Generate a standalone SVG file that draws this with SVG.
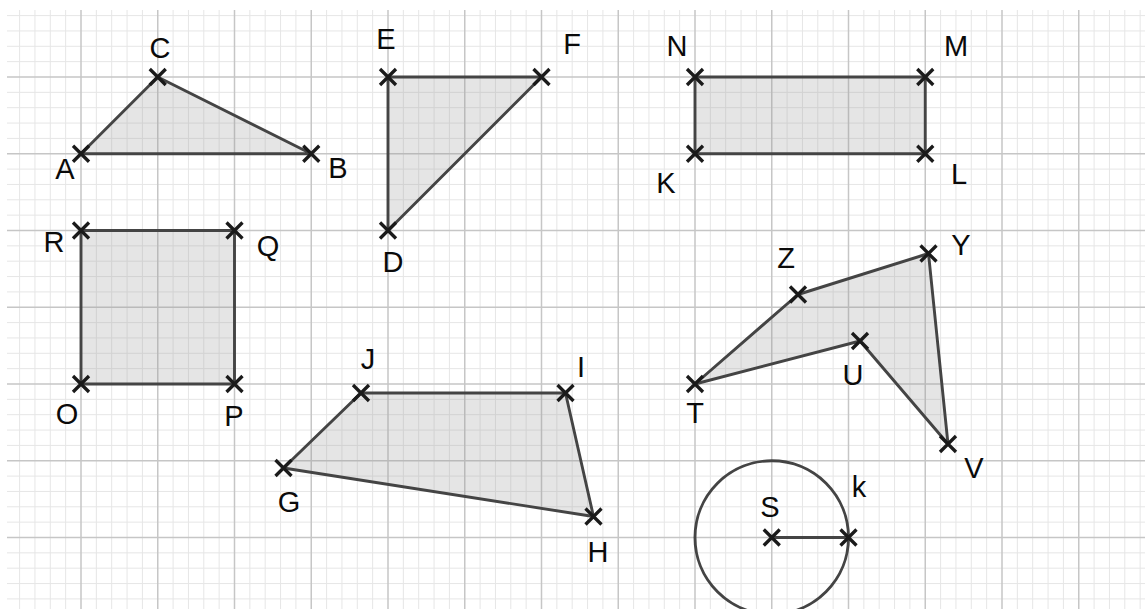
<svg xmlns="http://www.w3.org/2000/svg" width="1145" height="609" viewBox="0 0 1145 609">
<style>
.minor{stroke:#e6e6e6;stroke-width:1;fill:none}
.major{stroke:#c6c6c6;stroke-width:1.5;fill:none}
.shape{fill:#999;fill-opacity:0.25;stroke:none}
.edge{stroke:#444;stroke-width:2.9;fill:none;stroke-linecap:round;stroke-linejoin:round}
.pt{stroke:#1a1a1a;stroke-width:3.3;fill:none}
.lbl{font-family:"Liberation Sans",Arial,sans-serif;font-size:29px;fill:#0a0a0a;text-anchor:middle}
</style>
<defs>
<path id="x" class="pt" d="M-8,-8L8,8M-8,8L8,-8"/>
</defs>
<rect width="1145" height="609" fill="#fff"/>
<g id="grid">
<path class="minor" d="M19.6 10V609M34.95 10V609M50.3 10V609M65.65 10V609M96.35 10V609M111.7 10V609M127.05 10V609M142.4 10V609M173.1 10V609M188.45 10V609M203.8 10V609M219.15 10V609M249.85 10V609M265.2 10V609M280.55 10V609M295.9 10V609M326.6 10V609M341.95 10V609M357.3 10V609M372.65 10V609M403.35 10V609M418.7 10V609M434.05 10V609M449.4 10V609M480.1 10V609M495.45 10V609M510.8 10V609M526.15 10V609M556.85 10V609M572.2 10V609M587.55 10V609M602.9 10V609M633.6 10V609M648.95 10V609M664.3 10V609M679.65 10V609M710.35 10V609M725.7 10V609M741.05 10V609M756.4 10V609M787.1 10V609M802.45 10V609M817.8 10V609M833.15 10V609M863.85 10V609M879.2 10V609M894.55 10V609M909.9 10V609M940.6 10V609M955.95 10V609M971.3 10V609M986.65 10V609M1017.35 10V609M1032.7 10V609M1048.05 10V609M1063.4 10V609M1094.1 10V609M1109.45 10V609M1124.8 10V609M1140.15 10V609
M7 15.6H1145M7 30.95H1145M7 46.3H1145M7 61.65H1145M7 92.35H1145M7 107.7H1145M7 123.05H1145M7 138.4H1145M7 169.1H1145M7 184.45H1145M7 199.8H1145M7 215.15H1145M7 245.85H1145M7 261.2H1145M7 276.55H1145M7 291.9H1145M7 322.6H1145M7 337.95H1145M7 353.3H1145M7 368.65H1145M7 399.35H1145M7 414.7H1145M7 430.05H1145M7 445.4H1145M7 476.1H1145M7 491.45H1145M7 506.8H1145M7 522.15H1145M7 552.85H1145M7 568.2H1145M7 583.55H1145M7 598.9H1145"/>
<path class="major" d="M81 10V609M157.75 10V609M234.5 10V609M311.25 10V609M388 10V609M464.75 10V609M541.5 10V609M618.25 10V609M695 10V609M771.75 10V609M848.5 10V609M925.25 10V609M1002 10V609M1078.75 10V609
M7 77H1145M7 153.75H1145M7 230.5H1145M7 307.25H1145M7 384H1145M7 460.75H1145M7 537.5H1145"/>
</g>
<g id="fills">
<polygon id="triangle-ABC" class="shape" points="81,153.75 157.75,77 311.25,153.75"/>
<polygon id="triangle-DEF" class="shape" points="388,77 541.5,77 388,230.5"/>
<polygon id="rect-KLMN" class="shape" points="695,77 925.25,77 925.25,153.75 695,153.75"/>
<polygon id="square-OPQR" class="shape" points="81,230.5 234.5,230.5 234.5,384 81,384"/>
<polygon id="quad-GHIJ" class="shape" points="361,393 565.5,393 593.5,516.5 283.5,468"/>
<polygon id="poly-TZYVU" class="shape" points="695,384 798,294.5 928.5,253.5 948,444 860,341"/>
</g>
<g id="connectors">
<path class="edge" d="M81,153.75L157.75,77L311.25,153.75Z"/>
<path class="edge" d="M388,77L541.5,77L388,230.5Z"/>
<path class="edge" d="M695,77H925.25V153.75H695Z"/>
<path class="edge" d="M81,230.5H234.5V384H81Z"/>
<path class="edge" d="M361,393L565.5,393L593.5,516.5L283.5,468Z"/>
<path class="edge" d="M695,384L798,294.5L928.5,253.5L948,444L860,341Z"/>
<circle id="circle-k" class="edge" cx="771.75" cy="537.5" r="76.75"/>
<path class="edge" d="M771.75,537.5H848.5"/>
</g>
<g id="points">
<g id="A"><use href="#x" x="81" y="153.75"/><text class="lbl" x="65" y="179">A</text></g>
<g id="B"><use href="#x" x="311.25" y="153.75"/><text class="lbl" x="338" y="178">B</text></g>
<g id="C"><use href="#x" x="157.75" y="77"/><text class="lbl" x="160" y="58">C</text></g>
<g id="D"><use href="#x" x="388" y="230.5"/><text class="lbl" x="393" y="272">D</text></g>
<g id="E"><use href="#x" x="388" y="77"/><text class="lbl" x="386" y="49">E</text></g>
<g id="F"><use href="#x" x="541.5" y="77"/><text class="lbl" x="572" y="54">F</text></g>
<g id="N"><use href="#x" x="695" y="77"/><text class="lbl" x="677" y="56">N</text></g>
<g id="M"><use href="#x" x="925.25" y="77"/><text class="lbl" x="956" y="56">M</text></g>
<g id="L"><use href="#x" x="925.25" y="153.75"/><text class="lbl" x="959" y="184">L</text></g>
<g id="K"><use href="#x" x="695" y="153.75"/><text class="lbl" x="666" y="193">K</text></g>
<g id="R"><use href="#x" x="81" y="230.5"/><text class="lbl" x="54" y="252">R</text></g>
<g id="Q"><use href="#x" x="234.5" y="230.5"/><text class="lbl" x="268" y="256">Q</text></g>
<g id="O"><use href="#x" x="81" y="384"/><text class="lbl" x="67" y="424">O</text></g>
<g id="P"><use href="#x" x="234.5" y="384"/><text class="lbl" x="234" y="426">P</text></g>
<g id="J"><use href="#x" x="361" y="393"/><text class="lbl" x="368" y="369">J</text></g>
<g id="I"><use href="#x" x="565.5" y="393"/><text class="lbl" x="581" y="377">I</text></g>
<g id="H"><use href="#x" x="593.5" y="516.5"/><text class="lbl" x="598" y="562">H</text></g>
<g id="G"><use href="#x" x="283.5" y="468"/><text class="lbl" x="289" y="512">G</text></g>
<g id="T"><use href="#x" x="695" y="384"/><text class="lbl" x="695" y="423">T</text></g>
<g id="Z"><use href="#x" x="798" y="294.5"/><text class="lbl" x="786" y="268">Z</text></g>
<g id="Y"><use href="#x" x="928.5" y="253.5"/><text class="lbl" x="961" y="255">Y</text></g>
<g id="V"><use href="#x" x="948" y="444"/><text class="lbl" x="974" y="478">V</text></g>
<g id="U"><use href="#x" x="860" y="341"/><text class="lbl" x="853" y="385">U</text></g>
<g id="S"><use href="#x" x="771.75" y="537.5"/><text class="lbl" x="770" y="517">S</text></g>
<g id="k-point"><use href="#x" x="848.5" y="537.5"/><text class="lbl" x="859" y="497">k</text></g>
</g>
</svg>
